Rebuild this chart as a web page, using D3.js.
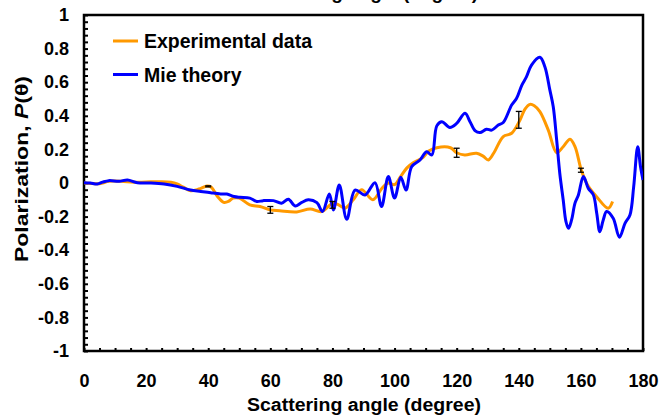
<!DOCTYPE html>
<html><head><meta charset="utf-8">
<script src="https://cdn.jsdelivr.net/npm/d3@7"></script>
<style>
html,body{margin:0;padding:0;background:#fff;}
svg{display:block;font-family:"Liberation Sans",Arial,sans-serif;font-weight:bold;}
</style></head>
<body><svg id="c" width="666" height="419"></svg>
<script>
// ---- data ----
const expAngles = [0,5,8,12,16,20,25,28,30,32,34.3,37,39.6,41,43,45,46.5,48,50,53.4,56.7,60,63,68.5,72.8,76.5,79.2,80.3,82,84,86.7,89.4,93,96,98,100,102,104,106,109,111,113.6,118,120,122.6,126.4,128.5,130.2,132,135,137.7,140.4,142,143.6,145,146.8,149.5,152.2,154.3,156.5,158.1,160.2,162.4,165,168.8,170.2];
const expValues = [0,-0.004,0.01,0.01,0.004,0.006,0.008,0.004,-0.006,-0.025,-0.046,-0.036,-0.018,-0.025,-0.08,-0.115,-0.11,-0.09,-0.09,-0.13,-0.14,-0.16,-0.165,-0.172,-0.155,-0.17,-0.131,-0.12,-0.13,-0.15,-0.1,-0.04,-0.1,-0.03,0.0,-0.01,0.04,0.09,0.12,0.15,0.19,0.21,0.21,0.18,0.167,0.177,0.16,0.137,0.18,0.276,0.296,0.375,0.44,0.468,0.46,0.425,0.315,0.18,0.216,0.26,0.216,0.073,-0.02,-0.08,-0.15,-0.11];
const mieAngles = [0,2,4.3,6,8,11.3,14,17.2,21.5,25.8,30,34.3,37.6,40.8,44,46,48.3,50.2,53.4,55.6,57.7,61,63.6,65.8,68,70,72.2,75,76.8,79,80.3,82.2,84.6,87.3,90.5,93.7,95.8,98,100,102,103.7,105.5,108.2,110.3,112,113.6,115.2,117.8,120,122.7,124.3,126,127.5,129.6,131.3,133.4,135,137.7,139.3,141,142.5,144.1,146.8,148.4,150,151.1,152.2,153.2,154.3,155.2,156,157,158.1,159.2,160.8,162.4,164,165.1,166.1,167.2,168.3,170.4,172.4,174.2,175.8,177,178.3,179.2,180];
const mieValues = [0.002,0,-0.006,0.005,0.014,0.01,0.018,0.002,0,-0.006,-0.02,-0.042,-0.05,-0.058,-0.065,-0.066,-0.08,-0.085,-0.09,-0.11,-0.105,-0.105,-0.12,-0.097,-0.137,-0.117,-0.1,-0.117,-0.17,-0.065,-0.16,-0.012,-0.216,-0.042,-0.071,0.002,-0.14,0.038,-0.09,0.034,-0.042,0.097,0.137,0.186,0.167,0.34,0.365,0.331,0.355,0.415,0.365,0.31,0.3,0.32,0.315,0.345,0.36,0.464,0.504,0.583,0.633,0.702,0.748,0.692,0.554,0.454,0.256,0.058,-0.1,-0.23,-0.27,-0.22,-0.12,-0.071,0.038,-0.032,-0.07,-0.18,-0.29,-0.22,-0.17,-0.21,-0.323,-0.24,-0.19,-0.022,0.216,0.097,0.018];
const errAngles = [40,60,80,120,140,160];
const errCenters = [-0.02,-0.16,-0.13,0.18,0.376,0.076];
const errHalf = [0.003,0.02,0.02,0.027,0.05,0.012];
const xTicks = [0,20,40,60,80,100,120,140,160,180];
const yTicks = [-1,-0.8,-0.6,-0.4,-0.2,0,0.2,0.4,0.6,0.8,1];
const seriesNames = ["Experimental data","Mie theory"];
const seriesColors = ["#FF9900","#0000FF"];

// ---- chart ----
const svg = d3.select("#c");
const L=84,R=643,T=15,B=351;
const x = d3.scaleLinear().domain([0,180]).range([L,R]);
const y = d3.scaleLinear().domain([-1,1]).range([B,T]);
const fmt = d => String(d);

// partially visible title at top (cut off in the reference as well)
svg.append("text").attr("x",364).attr("y",-1).attr("text-anchor","middle")
  .attr("font-size",19).text("Scattering angle (degree)");

// minor ticks
const yMinor = d3.range(0,51).map(i=>-1+i*0.04);
svg.append("g").attr("transform",`translate(${L},0)`)
  .call(d3.axisLeft(y).tickValues(yMinor).tickSize(-4).tickFormat(""))
  .call(g=>{g.select(".domain").remove();g.selectAll("line").attr("stroke","#000").attr("stroke-width",2);});
const xMinor = d3.range(0,37).map(i=>i*5);
svg.append("g").attr("transform",`translate(0,${B})`)
  .call(d3.axisBottom(x).tickValues(xMinor).tickSize(-3).tickFormat(""))
  .call(g=>{g.select(".domain").remove();g.selectAll("line").attr("stroke","#000").attr("stroke-width",2);});

// labels
svg.append("g").attr("transform",`translate(${L},0)`)
  .call(d3.axisLeft(y).tickValues(yTicks).tickSize(0).tickPadding(15).tickFormat(fmt))
  .call(g=>{g.select(".domain").remove();g.selectAll("text").attr("font-size",18).attr("font-family","Liberation Sans, Arial, sans-serif").attr("font-weight","bold").attr("fill","#000");});
svg.append("g").attr("transform",`translate(0,${B})`)
  .call(d3.axisBottom(x).tickValues(xTicks).tickSize(0).tickPadding(23).tickFormat(fmt))
  .call(g=>{g.select(".domain").remove();g.selectAll("text").attr("font-size",18).attr("font-family","Liberation Sans, Arial, sans-serif").attr("font-weight","bold").attr("fill","#000");});

// frame
svg.append("rect").attr("x",L).attr("y",T).attr("width",R-L).attr("height",B-T)
  .attr("fill","none").attr("stroke","#000").attr("stroke-width",2.5);

// clip
svg.append("clipPath").attr("id","clip").append("rect").attr("x",L).attr("y",T).attr("width",R-L).attr("height",B-T);

const line = d3.line().x(d=>x(d[0])).y(d=>y(d[1])).curve(d3.curveCatmullRom.alpha(0.5));
const expData = expAngles.map((a,i)=>[a,expValues[i]]);
const mieData = mieAngles.map((a,i)=>[a,mieValues[i]]);
const plot = svg.append("g").attr("clip-path","url(#clip)");
plot.append("path").datum(expData).attr("d",line).attr("fill","none").attr("stroke",seriesColors[0]).attr("stroke-width",3).attr("stroke-linejoin","round");
plot.append("path").datum(mieData).attr("d",line).attr("fill","none").attr("stroke",seriesColors[1]).attr("stroke-width",3).attr("stroke-linejoin","round");

// error bars
const eb = plot.append("g").attr("stroke","#000").attr("stroke-width",1.3);
errAngles.forEach((a,i)=>{
  const cx=x(a), y0=y(errCenters[i]-errHalf[i]), y1=y(errCenters[i]+errHalf[i]);
  eb.append("line").attr("x1",cx).attr("x2",cx).attr("y1",y0).attr("y2",y1);
  eb.append("line").attr("x1",cx-3).attr("x2",cx+3).attr("y1",y0).attr("y2",y0);
  eb.append("line").attr("x1",cx-3).attr("x2",cx+3).attr("y1",y1).attr("y2",y1);
});

// legend
const lg = svg.append("g");
[0,1].forEach(i=>{
  const ly = 41 + i*33.5;
  lg.append("line").attr("x1",113).attr("x2",138).attr("y1",ly).attr("y2",ly).attr("stroke",seriesColors[i]).attr("stroke-width",3);
  lg.append("text").attr("x",144).attr("y",ly+7).attr("font-size",19.5).text(seriesNames[i]);
});

// axis titles
svg.append("text").attr("x",364).attr("y",411).attr("text-anchor","middle").attr("font-size",18)
  .attr("textLength",234).attr("lengthAdjust","spacingAndGlyphs").text("Scattering angle (degree)");
const yt = svg.append("text").attr("transform","translate(28,169) rotate(-90)").attr("text-anchor","middle").attr("font-size",18)
  .attr("textLength",186).attr("lengthAdjust","spacingAndGlyphs");
yt.append("tspan").text("Polarization, ");
yt.append("tspan").attr("font-style","italic").text("P");
yt.append("tspan").text("(θ)");
</script></body></html>
